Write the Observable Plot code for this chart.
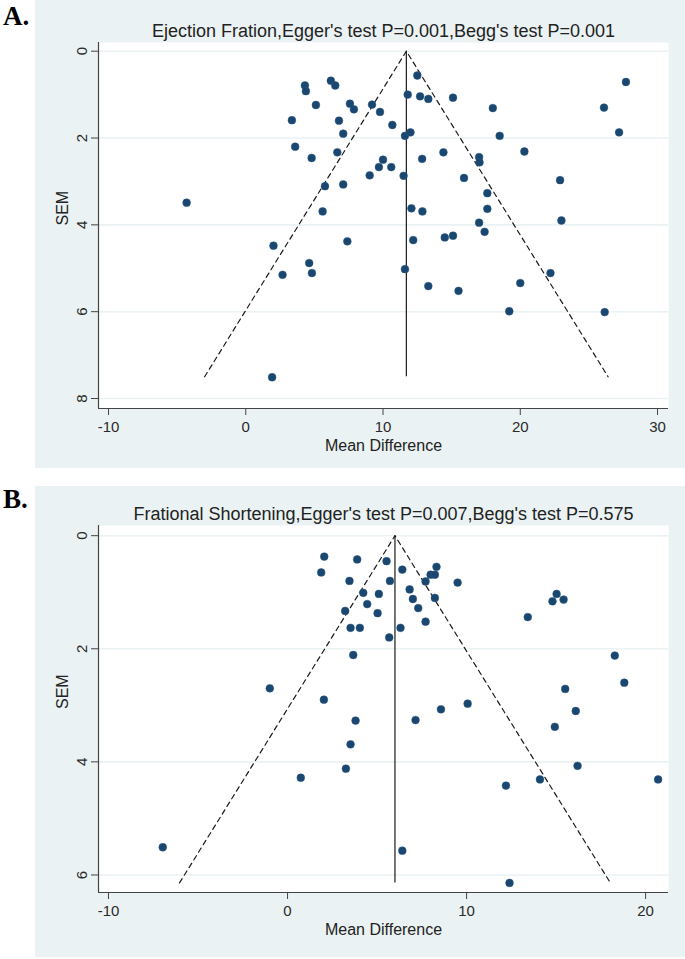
<!DOCTYPE html>
<html>
<head>
<meta charset="utf-8">
<script src="https://cdn.jsdelivr.net/npm/d3@7"></script>
<script src="https://cdn.jsdelivr.net/npm/@observablehq/plot@0.6"></script>
<style>
  html, body { margin: 0; padding: 0; background: #ffffff; }
  #root { position: relative; width: 685px; height: 959px; overflow: hidden; font-family: "Liberation Sans", Arial, sans-serif; }
  .tag { position: absolute; left: 3px; font-family: "Liberation Serif", "Times New Roman", serif; font-weight: bold; font-size: 27px; line-height: 30px; color: #000; }
  .panel { position: absolute; left: 35px; width: 650px; background: #eaf2f3; }
</style>
</head>
<body>
<div id="root">
  <div class="tag" style="top:1px">A.</div>
  <div class="tag" style="top:484px">B.</div>
  <div class="panel" id="panelA" style="top:0px;height:468px"></div>
  <div class="panel" id="panelB" style="top:486px;height:471px"></div>
</div>
<script>
// ---------- Panel A: Ejection Fraction ----------
const titleA = "Ejection Fration,Egger's test P=0.001,Begg's test P=0.001";
const mdA = [4.31, 4.38, 6.2, 6.52, 5.11, 7.59, 7.88, 3.36, 6.79, 7.1, 3.6, 4.8, 6.67, 5.77, 7.1, -4.31, 5.6,
  12.5, 27.7, 9.2, 9.78, 11.8, 12.7, 13.3, 15.1, 18.0, 26.1, 10.68, 11.6, 12.0, 18.5, 27.2, 14.4, 20.3, 12.85,
  17.0, 17.03, 10.0, 9.7, 10.6, 9.03, 11.5, 15.9, 22.9, 17.6, 12.07, 12.87, 17.6, 23.0, 17.0, 17.4, 14.5, 15.1,
  12.2, 7.4, 2.02, 4.62, 4.82, 2.68, 1.92, 11.6, 13.3, 15.5, 22.2, 20.0, 19.2, 26.15];
const semA = [0.79, 0.92, 0.68, 0.79, 1.24, 1.21, 1.34, 1.59, 1.60, 1.90, 2.2, 2.46, 2.33, 3.11, 3.07, 3.49, 3.69,
  0.56, 0.71, 1.23, 1.40, 1.0, 1.04, 1.10, 1.07, 1.31, 1.30, 1.70, 1.95, 1.87, 1.95, 1.87, 2.33, 2.31, 2.48,
  2.44, 2.56, 2.50, 2.67, 2.67, 2.86, 2.87, 2.92, 2.97, 3.27, 3.62, 3.69, 3.63, 3.90, 3.95, 4.16, 4.29, 4.25,
  4.35, 4.38, 4.48, 4.88, 5.11, 5.15, 7.51, 5.02, 5.41, 5.52, 5.11, 5.34, 5.99, 6.01];
const pooledA = 11.7, maxSemA = 7.5;
const xTicksA = [-10, 0, 10, 20, 30];
const yTicksA = [0, 2, 4, 6, 8];
const xDomainA = [-10.73, 30.8];
const yDomainA = [-0.2, 8.23];

// ---------- Panel B: Fractional Shortening ----------
const titleB = "Frational Shortening,Egger's test P=0.007,Begg's test P=0.575";
const mdB = [2.05, 1.88, 3.89, 3.46, 3.22, 3.52, 4.04, 3.67, -0.99, 2.03, 4.23, 4.45, 5.10, 5.03, 5.53, 5.72,
  6.41, 5.68, 6.31, 6.82, 7.0, 7.3, 7.71, 7.71, 7.99, 8.23, 8.32, 8.23, 9.50, 13.42, 14.8, 15.03, 15.42, 18.28,
  18.81, 15.51, 16.1, 8.57, 10.06, 3.8, 7.15, 3.52, 3.26, 14.93, 16.2, 14.1, 12.2, 20.7, 6.41, 12.4, 0.74, -6.97];
const semB = [0.37, 0.65, 0.42, 0.80, 1.33, 1.63, 1.63, 2.11, 2.70, 2.90, 1.01, 1.21, 1.03, 1.37, 0.45, 0.80,
  0.60, 1.80, 1.63, 0.95, 1.12, 1.28, 1.52, 0.81, 0.69, 0.69, 0.55, 1.10, 0.83, 1.44, 1.16, 1.03, 1.13, 2.12,
  2.60, 2.71, 3.10, 3.07, 2.97, 3.27, 3.26, 3.69, 4.12, 3.38, 4.07, 4.31, 4.42, 4.31, 5.57, 6.14, 4.28, 5.51];
const pooledB = 6.0, maxSemB = 6.14;
const xTicksB = [-10, 0, 10, 20];
const yTicksB = [0, 2, 4, 6];
const xDomainB = [-10.56, 21.28];
const yDomainB = [-0.18, 6.31];

const xLabel = "Mean Difference";
const yLabel = "SEM";

function funnel({title, md, sem, pooled, maxSem, xTicks, yTicks, xDomain, yDomain, height, marginTop, marginBottom}) {
  const pts = md.map((x, i) => ({x, y: sem[i]}));
  const funnelPts = [
    {x: pooled - 1.96 * maxSem, y: maxSem},
    {x: pooled, y: 0},
    {x: pooled + 1.96 * maxSem, y: maxSem}
  ];
  const fmt = d => String(d);
  return Plot.plot({
    width: 650,
    height,
    marginLeft: 63,
    marginRight: 17,
    marginTop,
    marginBottom,
    style: {background: "transparent", fontFamily: "'Liberation Sans', Arial, sans-serif", fontSize: "15px", color: "#2a2a2a"},
    x: {domain: xDomain},
    y: {domain: yDomain, reverse: true},
    marks: [
      Plot.frame({fill: "white", stroke: "none"}),
      Plot.ruleY(yTicks, {stroke: "#eaf2f3", strokeWidth: 1.6}),
      Plot.ruleX([xDomain[0]], {stroke: "#444", strokeWidth: 1.2}),
      Plot.ruleY([yDomain[1]], {stroke: "#444", strokeWidth: 1.2}),
      Plot.axisX({ticks: xTicks, tickFormat: fmt, tickSize: 7, tickPadding: 6, label: null, fontSize: 15, stroke: "#444"}),
      Plot.axisY({ticks: yTicks, tickFormat: fmt, tickSize: 7, tickPadding: 5, tickRotate: -90, label: null, fontSize: 15, stroke: "#444"}),
      Plot.line(funnelPts, {x: "x", y: "y", stroke: "#1a1a1a", strokeWidth: 1.2, strokeDasharray: "5,4"}),
      Plot.ruleX([pooled], {y1: 0, y2: maxSem, stroke: "#1a1a1a", strokeWidth: 1.2}),
      Plot.dot(pts, {x: "x", y: "y", r: 3.9, fill: "#1a476f", stroke: "#2a5680", strokeWidth: 0.5}),
      Plot.text([title], {frameAnchor: "top", dy: -10.8, lineAnchor: "middle", text: d => d, fontSize: 18, fill: "#222"}),
      Plot.text([xLabel], {frameAnchor: "bottom", dy: 37, lineAnchor: "middle", text: d => d, fontSize: 16, fill: "#222"}),
      Plot.text([yLabel], {frameAnchor: "left", dx: -36, rotate: -90, lineAnchor: "middle", text: d => d, fontSize: 16, fill: "#222"})
    ]
  });
}

document.getElementById("panelA").appendChild(funnel({
  title: titleA, md: mdA, sem: semA, pooled: pooledA, maxSem: maxSemA,
  xTicks: xTicksA, yTicks: yTicksA, xDomain: xDomainA, yDomain: yDomainA,
  height: 468, marginTop: 42, marginBottom: 60
}));
document.getElementById("panelB").appendChild(funnel({
  title: titleB, md: mdB, sem: semB, pooled: pooledB, maxSem: maxSemB,
  xTicks: xTicksB, yTicks: yTicksB, xDomain: xDomainB, yDomain: yDomainB,
  height: 471, marginTop: 39, marginBottom: 65
}));
</script>
</body>
</html>
